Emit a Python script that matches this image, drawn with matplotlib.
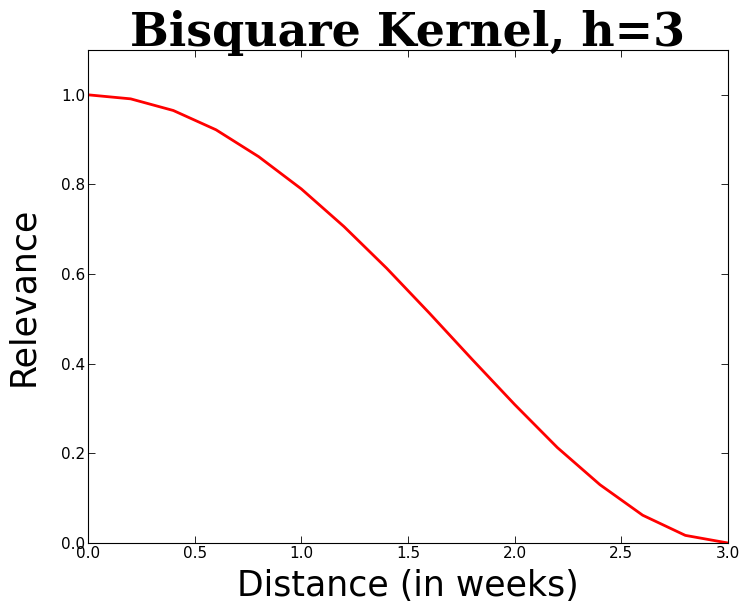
import matplotlib
matplotlib.use("Agg")
import matplotlib.pyplot as plt

# distance (weeks) and relevance
distance = [0.0, 0.2, 0.4, 0.6, 0.8, 1.0, 1.2, 1.4, 1.6, 1.8, 2.0, 2.2, 2.4, 2.6, 2.8, 3.0]
relevance = [1.0, 0.991, 0.965, 0.922, 0.862, 0.790, 0.706, 0.613, 0.513,
             0.410, 0.309, 0.213, 0.130, 0.062, 0.017, 0.0]
x_ticks = [0.0, 0.5, 1.0, 1.5, 2.0, 2.5, 3.0]
y_ticks = [0.0, 0.2, 0.4, 0.6, 0.8, 1.0]

fig = plt.figure(figsize=(7.42, 6.05), dpi=100)
ax = fig.add_axes([88 / 742, 62 / 605, 640 / 742, 493 / 605])

ax.plot(distance, relevance, color="red", linewidth=2)
ax.set_xlim(0, 3.0)
ax.set_ylim(0, 1.1)
ax.set_xticks(x_ticks)
ax.set_yticks(y_ticks)
ax.tick_params(direction="in", top=True, right=True, labelsize=11,
               length=5, width=0.6, pad=2)

ax.set_xlabel("Distance (in weeks)", fontsize=25, labelpad=6)
ax.set_ylabel("Relevance", fontsize=25, labelpad=15)
ax.set_title("Bisquare Kernel, h=3", fontsize=33, fontweight="bold",
             family="DejaVu Serif", pad=3)

fig.savefig("out.png", dpi=100)
